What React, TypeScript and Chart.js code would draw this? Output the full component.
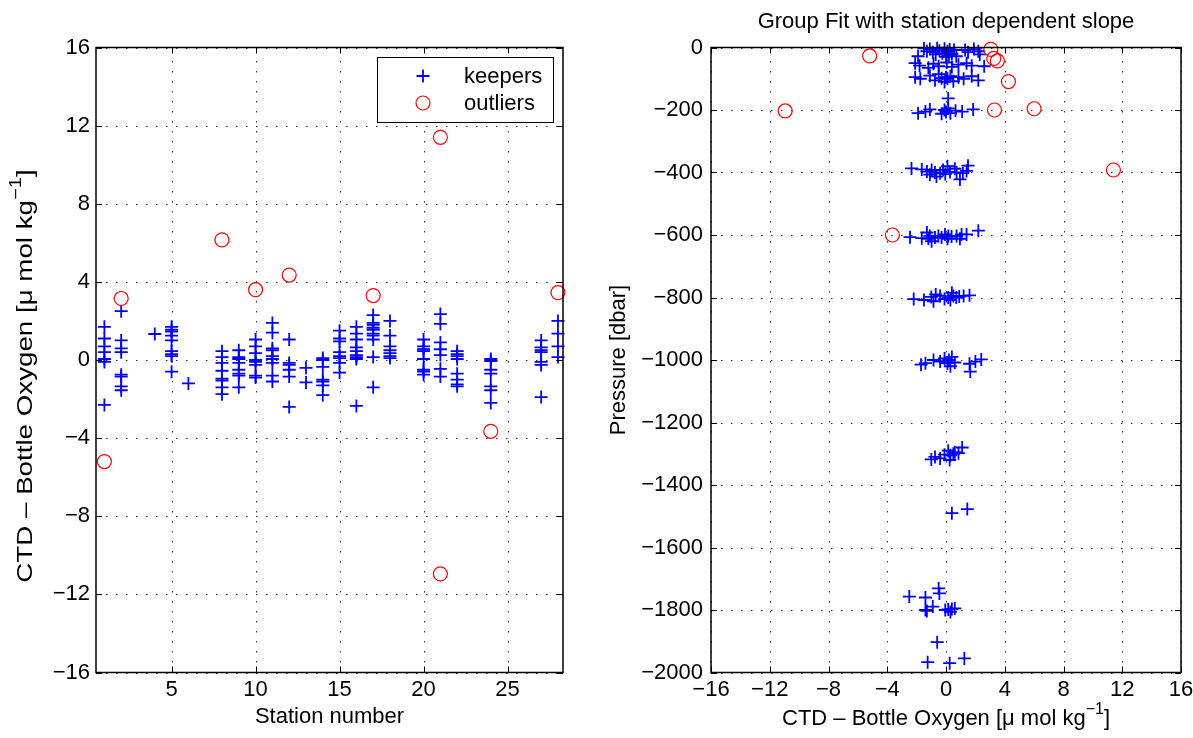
import React, { useEffect, useRef } from "react";
import { Chart, registerables } from "chart.js";
Chart.register(...registerables);

const FONT = '"Liberation Sans", Arial, Helvetica, sans-serif';
const BLUE = "#0000ff";
const RED = "#ff0000";

// ---------- Left panel data: station number vs CTD - bottle oxygen ----------
const stations = [1, 2, 4, 5, 6, 8, 9, 10, 11, 12, 13, 14, 15, 16, 17, 18, 20, 21, 22, 24, 27, 28];
const keeperDiffByStation = [
  [1.7, 1.1, 0.7, 0.4, 0.05, -0.1, -2.3],
  [2.5, 1.0, 0.6, 0.4, -0.75, -0.85, -1.35, -1.55],
  [1.33],
  [1.7, 1.55, 1.45, 1.25, 1.0, 0.45, 0.3, 0.2, -0.6],
  [-1.2],
  [0.45, 0.15, -0.15, -0.55, -0.95, -1.05, -1.4, -1.75],
  [0.5, 0.15, 0.05, -0.15, -0.5, -0.7, -0.8, -1.4],
  [1.05, 0.7, 0.35, 0.0, -0.1, -0.25, -0.8, -0.9],
  [1.9, 1.4, 0.6, 0.5, 0.2, 0.05, -0.15, -0.8, -1.1],
  [1.05, -0.15, -0.25, -0.5, -0.85, -2.4],
  [-0.4, -1.15],
  [0.1, 0.0, -0.35, -1.0, -1.1, -1.3, -1.8],
  [1.5, 1.1, 0.95, 0.4, 0.2, 0.1, -0.15, -0.65],
  [1.7, 1.35, 1.05, 0.65, 0.45, 0.25, 0.15, 0.05, -2.35],
  [2.3, 1.9, 1.8, 1.65, 1.55, 1.35, 1.25, 1.05, 0.15, -1.4],
  [2.0, 1.25, 0.7, 0.5, 0.35, 0.2, 0.1],
  [1.05, 0.7, 0.55, 0.45, 0.05, -0.5, -0.6, -0.75],
  [2.35, 1.85, 0.9, 0.55, 0.25, -0.45, -0.85],
  [0.45, 0.3, 0.2, 0.05, -0.7, -1.0, -1.25, -1.35],
  [0.05, -0.05, -0.5, -0.7, -1.35, -1.55, -2.2],
  [1.0, 0.65, 0.5, 0.4, -0.1, -0.25, -1.9],
  [2.0, 1.35, 0.7, 0.15],
];
const outlierStations = [1, 2, 8, 10, 12, 17, 21, 21, 24, 28];
const outlierDiffs = [-5.2, 3.15, 6.15, 3.6, 4.35, 3.3, 11.4, -10.95, -3.65, 3.45];

// ---------- Right panel data: CTD - bottle oxygen vs pressure ----------
const keeperDiff = [
  -1.5, -1.3, -1.1, -0.9, -0.6, -0.45, -0.25, -0.1, 0.1, 0.25, 0.4, 0.55, 0.2, -0.7, 1.3, 1.5, 1.9, 2.2, -1.9, 0.0, 0.7, 2.3,
  -2.1, -1.8, -0.85, -0.5, 0.05, 0.4, 0.85, 1.4, 1.75, 2.6, -1.2,
  -2.1, -1.75, -1.1, -0.75, -0.5, -0.3, -0.1, 0.1, 0.3, 0.5, 0.85, 1.2, 1.75, 2.2, 0.0,
  0.15,
  -1.9, -1.4, -1.1, -0.3, -0.1, 0.0, 0.15, 0.3, 0.65, 1.1, 1.85,
  -2.35, -1.65, -1.3, -1.1, -0.98, -0.75, -0.65, -0.4, -0.2, -0.05, 0.1, 0.27, 0.6, 0.72, 0.95, 1.15, 1.4, 1.5,
  -2.45, -1.65, -1.3, -1.2, -1.1, -0.98, -0.75, -0.52, -0.3, -0.07, 0.1, 0.16, 0.38, 0.72, 0.95, 1.06, 1.4, 2.2,
  -2.2, -1.5, -1.0, -0.7, -0.4, -0.1, 0.15, 0.3, 0.5, 0.7, 0.9, 1.2, 1.6, -0.85, 0.4,
  -1.7, -1.4, -0.85, -0.4, -0.1, 0.1, 0.2, 0.4, 0.6, 1.6, 1.65, 2.0, 2.4, 0.3,
  -1.0, -0.75, -0.4, -0.1, 0.15, 0.3, 0.5, 0.6, 0.85, 1.1, 0.25,
  0.4, 1.45,
  -0.5, -0.45, -2.5, -1.4, -0.9, -1.4, -1.3, -0.05, 0.15, 0.4, 0.3, 0.6,
  -0.6, -1.25, 0.25, 1.25,
];
const keeperPressure = [
  -3, -12, -5, -15, -2, -10, -18, -4, -12, -6, -20, -8, -25, -22, -8, -15, -5, -12, -28, -30, -28, -22,
  -50, -58, -52, -60, -48, -62, -55, -50, -58, -60, -65,
  -95, -100, -90, -105, -85, -98, -110, -100, -92, -108, -95, -100, -92, -105, -95,
  -163,
  -210, -205, -198, -212, -200, -206, -195, -210, -202, -205, -198,
  -387, -390, -397, -407, -392, -400, -413, -402, -392, -405, -380, -398, -388, -400, -422, -402, -395, -378,
  -607, -610, -592, -612, -603, -620, -608, -603, -608, -598, -612, -603, -605, -603, -612, -598, -598, -586,
  -805, -808, -798, -790, -795, -805, -800, -808, -795, -800, -797, -795, -793, -812, -785,
  -1015, -1010, -1000, -1005, -995, -1010, -1000, -990, -1008, -1012, -1037, -1005, -998, -1020,
  -1318, -1310, -1315, -1303, -1290, -1305, -1300, -1295, -1298, -1280, -1320,
  -1490, -1477,
  -1731, -1747, -1757, -1760, -1789, -1800, -1803, -1800, -1798, -1797, -1806, -1795,
  -1903, -1967, -1970, -1955,
];
const outlierDiffR = [-10.95, -5.2, 3.05, 3.25, 3.5, 4.25, 3.3, 6.0, 11.4, -3.65];
const outlierPressure = [-203, -27, -6, -35, -43, -109, -200, -196, -392, -600];

// ---------- Ticks ----------
const stationTicks = [5, 10, 15, 20, 25];
const diffTicks = [-16, -12, -8, -4, 0, 4, 8, 12, 16];
const pressureTicks = [0, -200, -400, -600, -800, -1000, -1200, -1400, -1600, -1800, -2000];

type Part = { text: string; sup?: boolean };

const fmt = (v: number | string) => {
  const s = String(v);
  return s.startsWith("-") ? "\u2212" + s.slice(1) : s;
};

function drawText(
  ctx: CanvasRenderingContext2D,
  parts: Part[],
  cx: number,
  cy: number,
  rotate: boolean,
  size: number,
  stretch = 1
) {
  ctx.save();
  ctx.translate(cx, cy);
  if (rotate) ctx.rotate(-Math.PI / 2);
  if (stretch !== 1) ctx.scale(stretch, 1);
  const main = `${size}px ${FONT}`;
  const small = `${Math.round(size * 0.72)}px ${FONT}`;
  let total = 0;
  parts.forEach((p) => {
    ctx.font = p.sup ? small : main;
    total += ctx.measureText(p.text).width;
  });
  let x = -total / 2;
  ctx.textBaseline = "middle";
  ctx.textAlign = "left";
  ctx.fillStyle = "#000";
  parts.forEach((p) => {
    ctx.font = p.sup ? small : main;
    ctx.fillText(p.text, x, p.sup ? -size * 0.42 : 0);
    x += ctx.measureText(p.text).width;
  });
  ctx.restore();
}

function axis(min: number, max: number, ticks: number[], fit: { width?: number; height?: number }, padding: number) {
  return {
    type: "linear" as const,
    min,
    max,
    grid: { display: false, drawTicks: false },
    border: { display: false },
    ticks: {
      font: { family: FONT, size: 22 },
      color: "#000",
      padding,
      autoSkip: false,
      maxRotation: 0,
      minRotation: 0,
      callback: (v: number | string) => fmt(v),
    },
    afterBuildTicks: (s: any) => {
      s.ticks = ticks.map((v) => ({ value: v }));
    },
    afterFit: (s: any) => {
      if (fit.width != null) s.width = fit.width;
      if (fit.height != null) s.height = fit.height;
      s.paddingLeft = 0;
      s.paddingRight = 0;
      s.paddingTop = 0;
      s.paddingBottom = 0;
    },
  };
}

type Deco = {
  title?: string;
  xTitle: Part[];
  xTitleY: number;
  yTitle: Part[];
  yTitleX: number;
  yTitleY?: number;
  yStretch?: number;
  legend?: boolean;
};

function matlabPlugin(d: Deco) {
  return {
    id: "matlabAxes",
    beforeDatasetsDraw(chart: any) {
      const { ctx, chartArea: a, scales } = chart;
      const xs = scales.x;
      const ys = scales.y;
      ctx.save();
      ctx.strokeStyle = "rgba(0,0,0,0.8)";
      ctx.lineWidth = 1;
      ctx.setLineDash([1.5, 8.5]);
      xs.ticks.forEach((t: any) => {
        const px = Math.round(xs.getPixelForValue(t.value)) + 0.5;
        ctx.beginPath();
        ctx.moveTo(px, a.bottom);
        ctx.lineTo(px, a.top);
        ctx.stroke();
      });
      ys.ticks.forEach((t: any) => {
        const py = Math.round(ys.getPixelForValue(t.value)) + 0.5;
        ctx.beginPath();
        ctx.moveTo(a.left, py);
        ctx.lineTo(a.right, py);
        ctx.stroke();
      });
      ctx.restore();
    },
    afterDraw(chart: any) {
      const { ctx, chartArea: a, scales } = chart;
      const xs = scales.x;
      const ys = scales.y;
      const tl = 6;
      ctx.save();
      ctx.strokeStyle = "#000";
      ctx.lineWidth = 1.5;
      ctx.setLineDash([]);
      ctx.strokeRect(a.left, a.top, a.right - a.left, a.bottom - a.top);
      ctx.lineWidth = 1;
      xs.ticks.forEach((t: any) => {
        const px = Math.round(xs.getPixelForValue(t.value)) + 0.5;
        ctx.beginPath();
        ctx.moveTo(px, a.bottom);
        ctx.lineTo(px, a.bottom - tl);
        ctx.moveTo(px, a.top);
        ctx.lineTo(px, a.top + tl);
        ctx.stroke();
      });
      ys.ticks.forEach((t: any) => {
        const py = Math.round(ys.getPixelForValue(t.value)) + 0.5;
        ctx.beginPath();
        ctx.moveTo(a.left, py);
        ctx.lineTo(a.left + tl, py);
        ctx.moveTo(a.right, py);
        ctx.lineTo(a.right - tl, py);
        ctx.stroke();
      });
      ctx.restore();

      const cx = (a.left + a.right) / 2;
      const cy = (a.top + a.bottom) / 2;
      drawText(ctx, d.xTitle, cx, d.xTitleY, false, 22);
      drawText(ctx, d.yTitle, d.yTitleX, d.yTitleY ?? cy, true, 22, d.yStretch ?? 1);
      if (d.title) drawText(ctx, [{ text: d.title }], cx, 22, false, 22);

      if (d.legend) {
        const lx = 377, ly = 57, lw = 176, lh = 65;
        ctx.save();
        ctx.fillStyle = "#fff";
        ctx.fillRect(lx, ly, lw, lh);
        ctx.strokeStyle = "#000";
        ctx.lineWidth = 1;
        ctx.strokeRect(lx + 0.5, ly + 0.5, lw, lh);
        ctx.strokeStyle = BLUE;
        ctx.lineWidth = 1.8;
        ctx.beginPath();
        ctx.moveTo(423 - 6.5, 76);
        ctx.lineTo(423 + 6.5, 76);
        ctx.moveTo(423, 76 - 6.5);
        ctx.lineTo(423, 76 + 6.5);
        ctx.stroke();
        ctx.strokeStyle = RED;
        ctx.lineWidth = 1.2;
        ctx.beginPath();
        ctx.arc(423, 103, 7, 0, Math.PI * 2);
        ctx.stroke();
        ctx.fillStyle = "#000";
        ctx.font = `22px ${FONT}`;
        ctx.textBaseline = "middle";
        ctx.textAlign = "left";
        ctx.fillText("keepers", 464, 77);
        ctx.fillText("outliers", 464, 104);
        ctx.restore();
      }
    },
  };
}

const oxyLabel: Part[] = [
  { text: "CTD \u2013 Bottle Oxygen [\u03bc mol kg" },
  { text: "\u22121", sup: true },
  { text: "]" },
];

function useChart(ref: React.RefObject<HTMLCanvasElement>, build: () => any) {
  useEffect(() => {
    if (!ref.current) return;
    const chart = new Chart(ref.current, build());
    return () => chart.destroy();
  }, []);
}

function datasets(outliers: { x: number; y: number }[], keepers: { x: number; y: number }[]) {
  return [
    {
      label: "outliers",
      data: outliers,
      pointStyle: "circle",
      pointRadius: 7,
      borderColor: RED,
      backgroundColor: "rgba(0,0,0,0)",
      borderWidth: 1.2,
      clip: false,
    },
    {
      label: "keepers",
      data: keepers,
      pointStyle: "cross",
      pointRadius: 6.5,
      borderColor: BLUE,
      backgroundColor: BLUE,
      borderWidth: 1.8,
      clip: false,
    },
  ];
}

export default function App() {
  const leftRef = useRef<HTMLCanvasElement>(null);
  const rightRef = useRef<HTMLCanvasElement>(null);

  useChart(leftRef, () => {
    const keepers: { x: number; y: number }[] = [];
    stations.forEach((s, i) => keeperDiffByStation[i].forEach((v) => keepers.push({ x: s, y: v })));
    const outliers = outlierStations.map((s, i) => ({ x: s, y: outlierDiffs[i] }));
    return {
      type: "scatter",
      data: { datasets: datasets(outliers, keepers) },
      options: {
        animation: false,
        responsive: false,
        devicePixelRatio: 1,
        events: [],
        layout: { padding: { left: 0, right: 33, top: 47.5, bottom: 0 } },
        plugins: { legend: { display: false }, tooltip: { enabled: false } },
        scales: {
          x: axis(0.5, 28.3, stationTicks, { height: 65.5 }, 4),
          y: axis(-16, 16, diffTicks, { width: 96 }, 6),
        },
      },
      plugins: [
        matlabPlugin({
          xTitle: [{ text: "Station number" }],
          xTitleY: 717,
          yTitle: oxyLabel,
          yTitleX: 26,
          yTitleY: 376,
          yStretch: 1.26,
          legend: true,
        }),
      ],
    };
  });

  useChart(rightRef, () => {
    const keepers = keeperDiff.map((v, i) => ({ x: v, y: keeperPressure[i] }));
    const outliers = outlierDiffR.map((v, i) => ({ x: v, y: outlierPressure[i] }));
    return {
      type: "scatter",
      data: { datasets: datasets(outliers, keepers) },
      options: {
        animation: false,
        responsive: false,
        devicePixelRatio: 1,
        events: [],
        layout: { padding: { left: 0, right: 12, top: 47.5, bottom: 0 } },
        plugins: { legend: { display: false }, tooltip: { enabled: false } },
        scales: {
          x: axis(-16, 16, diffTicks, { height: 65.5 }, 4),
          y: axis(-2000, 0, pressureTicks, { width: 115 }, 8),
        },
      },
      plugins: [
        matlabPlugin({
          title: "Group Fit with station dependent slope",
          xTitle: oxyLabel,
          xTitleY: 719,
          yTitle: [{ text: "Pressure [dbar]" }],
          yTitleX: 23,
        }),
      ],
    };
  });

  return (
    <div style={{ position: "absolute", left: 0, top: 0, width: 1193, height: 738, background: "#fff" }}>
      <canvas ref={leftRef} width={596} height={738} style={{ position: "absolute", left: 0, top: 0, width: 596, height: 738 }} />
      <canvas ref={rightRef} width={597} height={738} style={{ position: "absolute", left: 596, top: 0, width: 597, height: 738 }} />
    </div>
  );
}
